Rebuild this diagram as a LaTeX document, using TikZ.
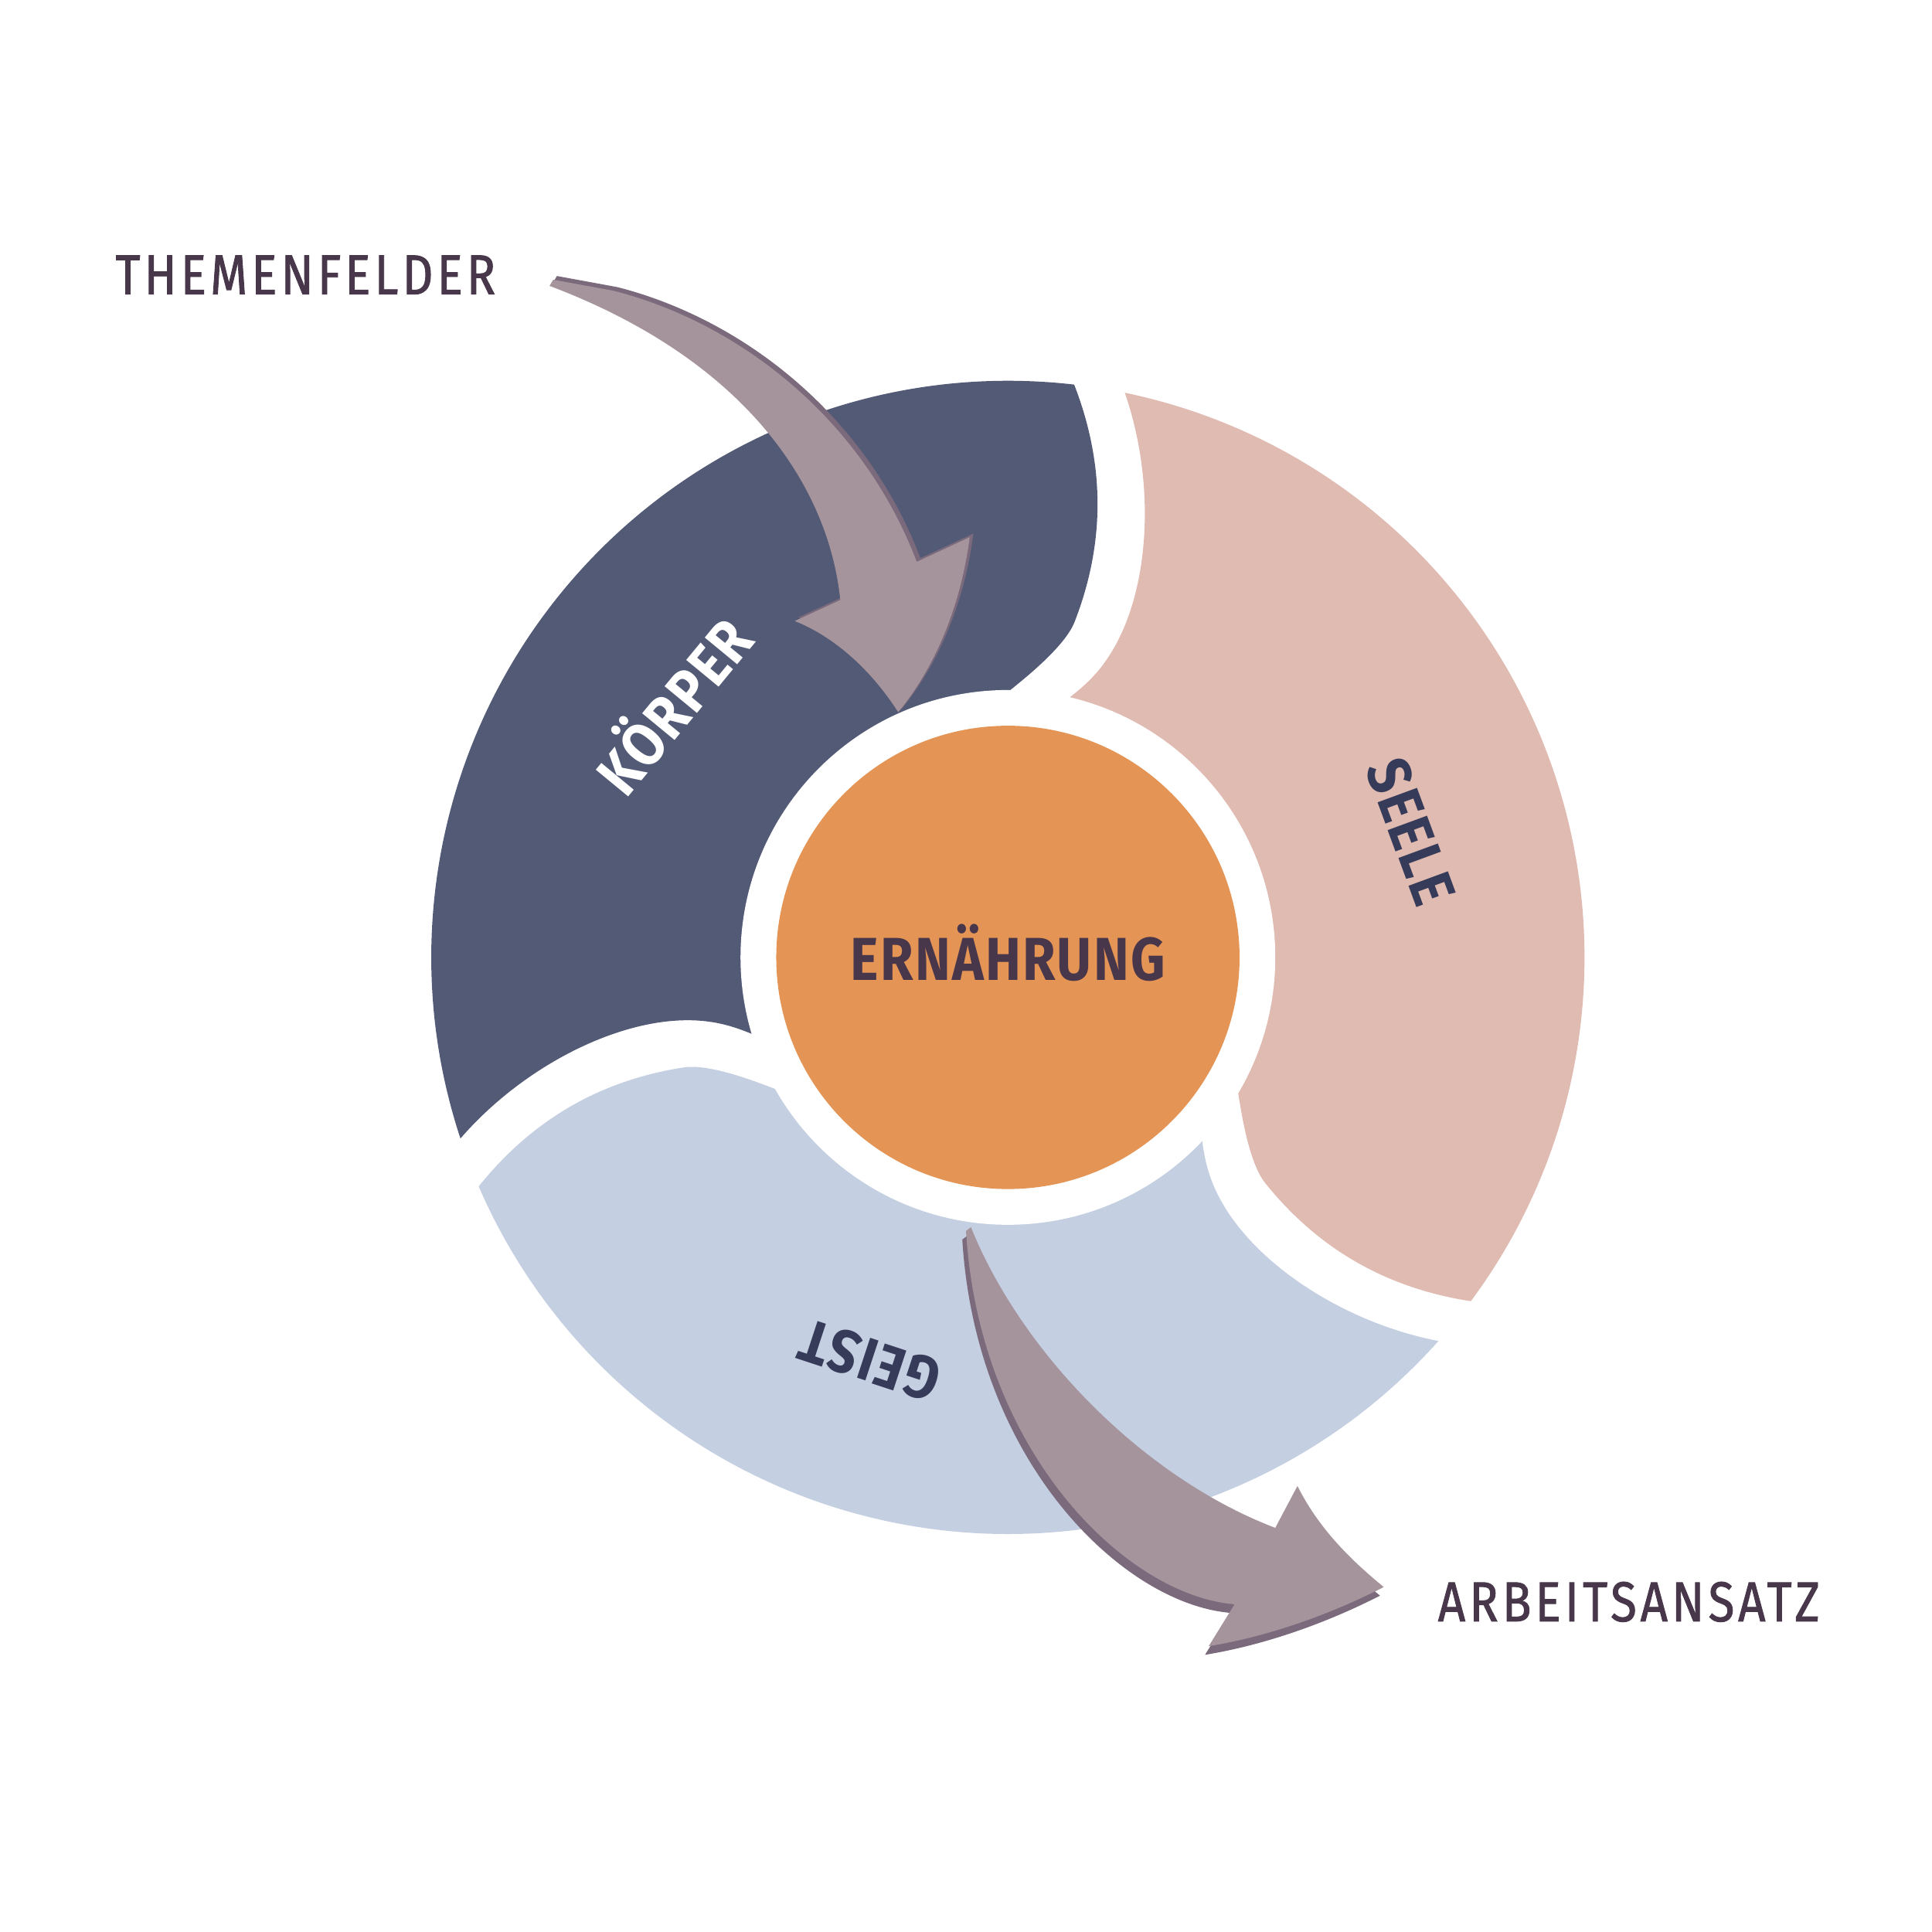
\documentclass[tikz,border=0pt]{standalone}
\usepackage{fontspec}
\setmainfont{Fira Sans}
\newfontfamily\dinfont{Fira Sans}[FakeStretch=0.85, LetterSpace=7, FakeBold=1.2]
\newfontfamily\dinboldfont{Fira Sans}[FakeStretch=0.88, LetterSpace=3]
\usetikzlibrary{calc}

\definecolor{koerperblue}{HTML}{525A76}
\definecolor{seelerose}{HTML}{E0BBB2}
\definecolor{geistblue}{HTML}{C4CFE1}
\definecolor{kernorange}{HTML}{E49455}
\definecolor{arrowfill}{HTML}{A6949C}
\definecolor{arrowedge}{HTML}{7A6A7C}
\definecolor{textplum}{HTML}{48364A}
\definecolor{textnavy}{HTML}{363B59}

\begin{document}
\begin{tikzpicture}[
    x=0.1mm, y=-0.1mm,
    lbl/.style={font=\fontsize{13}{13}\selectfont\dinfont, text=textplum, inner sep=0pt, text height=9pt, text depth=0pt},
    seglbl/.style={font=\fontsize{14}{14}\selectfont\dinboldfont\bfseries, inner sep=0pt, text height=9.6pt, text depth=0pt}
]
    \useasboundingbox (0,0) rectangle (1568,1568);
    \coordinate (c) at (818,777);

    % three swirl segments, same outline turned by 120 degrees
    \foreach \off/\col in {0/koerperblue, 120/seelerose, 240/geistblue}
        \fill[\col, shift={(c)}, rotate=-\off]
            (161.7:468) arc[start angle=161.7, end angle=276.6, radius=468]
            .. controls (79,-400) and (79,-336) .. (54,-272)
            .. controls (46,-252) and (13,-226) .. (2,-217)
            -- (-30,-190) -- (0,0) -- (-190,70)
            -- (-208,62) .. controls (-225,55) and (-240,51) .. (-260,51)
            .. controls (-320,51) and (-395,90) .. (161.7:468)
            -- cycle;

    % arrow in (edge first, then face)
    \foreach \dx/\dy/\col in {3/-3/arrowedge, 0/0/arrowfill}
        \fill[\col, shift={(\dx,\dy)}] (446,232) -- (449,227) -- (498,236)
            .. controls (600,262) and (700,340) .. (744,456)
            -- (787,436)
            .. controls (780,490) and (760,540) .. (729,578)
            .. controls (708,545) and (678,517) .. (645,504)
            -- (682,487)
            .. controls (672,390) and (600,290) .. (446,232)
            -- cycle;

    % arrow out
    \foreach \dx/\dy/\col in {-3/7/arrowedge, 0/0/arrowfill}
        \fill[\col, shift={(\dx,\dy)}] (784,999) -- (788,996)
            .. controls (830,1100) and (930,1200) .. (1035,1240)
            -- (1053,1206)
            .. controls (1070,1240) and (1095,1265) .. (1123,1288)
            .. controls (1080,1310) and (1030,1328) .. (981,1336)
            -- (1002,1302)
            .. controls (915,1295) and (795,1180) .. (784,999)
            -- cycle;

    % core
    \fill[white] (c) circle[radius=217];
    \fill[kernorange] (c) circle[radius=188];

    \node[seglbl, text=textplum] (ernaehrung) at (818,779) {ERNÄHRUNG};
    \node[seglbl, text=white, rotate=50.5] (koerper) at (548,574) {KÖRPER};
    \node[seglbl, text=textnavy, rotate=-69.8] (seele) at (1145,675) {SEELE};
    \node[seglbl, text=textnavy, rotate=161.8] (geist) at (706,1104) {GEIST};

    \node[lbl] (themenfelder) at (248,223) {THEMENFELDER};
    \node[lbl] (arbeitsansatz) at (1322,1300) {ARBEITSANSATZ};
\end{tikzpicture}
\end{document}
